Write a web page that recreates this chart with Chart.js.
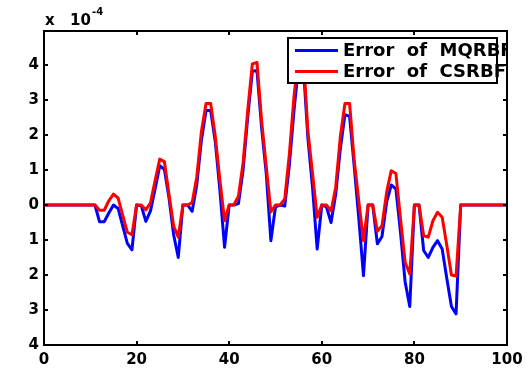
<!DOCTYPE html>
<html>
<head>
<meta charset="utf-8">
<script src="https://cdn.jsdelivr.net/npm/chart.js@4.4.1/dist/chart.umd.min.js"></script>
<style>
    html, body { margin: 0; padding: 0; background: #fff; }
    #wrap { position: relative; width: 529px; height: 374px; }
    #legendClip { position: absolute; left: 287px; top: 37px; width: 219px; height: 47px; overflow: hidden; }
    #legendBox { position: absolute; left: 0; top: 0; width: 211px; height: 47px; box-sizing: border-box; border: 2px solid #000; background: #fff; }
    .lg-line { position: absolute; left: 8px; width: 43px; height: 3px; }
    .lg-text { position: absolute; left: 56px; white-space: pre; font: bold 18px "DejaVu Sans"; line-height: 18px; color: #000; }
</style>
</head>
<body>
<div id="wrap">
    <canvas id="chart" width="529" height="374"></canvas>
    <div id="legendClip">
        <div id="legendBox"></div>
        <div class="lg-line" style="top:12px;background:#0000ff"></div>
        <div class="lg-text" style="top:4px">Error  of  MQRBF</div>
        <div class="lg-line" style="top:33px;background:#ff0000"></div>
        <div class="lg-text" style="top:25px">Error  of  CSRBF</div>
    </div>
</div>
<script>
(function () {
    // sample positions (flat zero before 11 and after 90)
    const xs = [0, 11, 12, 13, 14, 15, 16, 17, 18, 19, 20, 21, 22, 23, 24, 25, 26, 27, 28, 29, 30,
        31, 32, 33, 34, 35, 36, 37, 38, 39, 40, 41, 42, 43, 44, 45, 46, 47, 48, 49, 50,
        51, 52, 53, 54, 55, 56, 57, 58, 59, 60, 61, 62, 63, 64, 65, 66, 67, 68, 69, 70,
        71, 72, 73, 74, 75, 76, 77, 78, 79, 80, 81, 82, 83, 84, 85, 86, 87, 88, 89, 90, 100];

    // errors in units of 1e-4
    const mqrbf = [0, 0, -0.48, -0.48, -0.23, 0.0, -0.1, -0.6, -1.1, -1.28, 0, -0.02, -0.47, -0.17, 0.46, 1.12, 1.02, 0.2, -0.85, -1.5, 0,
        0, -0.18, 0.58, 1.85, 2.7, 2.7, 1.8, 0.4, -1.21, 0, 0, 0.04, 1.0, 2.5, 3.82, 3.84, 2.2, 0.9, -1.02, -0.05,
        0, -0.03, 1.15, 2.7, 4.0, 4.0, 1.9, 0.5, -1.26, 0, -0.05, -0.5, 0.3, 1.6, 2.58, 2.53, 1.1, -0.4, -2.02, 0,
        0, -1.11, -0.9, 0.08, 0.57, 0.46, -0.78, -2.2, -2.9, 0, 0, -1.3, -1.5, -1.21, -1.02, -1.26, -2.1, -2.9, -3.11, 0, 0];

    const csrbf = [0, 0, -0.15, -0.15, 0.12, 0.31, 0.2, -0.3, -0.78, -0.85, 0, 0, -0.14, 0.06, 0.7, 1.31, 1.24, 0.3, -0.6, -0.92, 0,
        0, 0.07, 0.8, 2.1, 2.9, 2.9, 1.95, 0.7, -0.45, 0, 0, 0.25, 1.2, 2.7, 4.03, 4.07, 2.4, 1.1, -0.2, 0,
        0, 0.17, 1.46, 3.1, 4.3, 4.3, 2.1, 0.9, -0.35, 0, 0, -0.17, 0.5, 1.94, 2.9, 2.9, 1.27, 0.1, -1.02, 0,
        0, -0.75, -0.59, 0.36, 0.98, 0.9, -0.4, -1.64, -1.97, 0, 0, -0.88, -0.92, -0.45, -0.21, -0.35, -1.16, -2.0, -2.03, 0, 0];

    const xTicks = [0, 20, 40, 60, 80, 100];
    const yTicks = [-4, -3, -2, -1, 0, 1, 2, 3, 4];

    const tickFont = { family: 'DejaVu Sans', weight: 'bold', size: 15 };

    // MATLAB-like box: top/right edges, inward ticks, exponent label
    const frame = {
        id: 'frame',
        afterDraw(chart) {
            const { ctx, chartArea: a, scales: { x, y } } = chart;
            ctx.save();
            ctx.strokeStyle = '#000';
            ctx.lineWidth = 2;
            ctx.beginPath();
            ctx.moveTo(a.left, a.top);
            ctx.lineTo(a.right, a.top);
            ctx.lineTo(a.right, a.bottom);
            ctx.stroke();

            ctx.beginPath();
            x.ticks.forEach(t => {
                const px = Math.round(x.getPixelForValue(t.value));
                ctx.moveTo(px, a.bottom); ctx.lineTo(px, a.bottom - 4);
                ctx.moveTo(px, a.top); ctx.lineTo(px, a.top + 4);
            });
            y.ticks.forEach(t => {
                const py = Math.round(y.getPixelForValue(t.value));
                ctx.moveTo(a.left, py); ctx.lineTo(a.left + 4, py);
                ctx.moveTo(a.right, py); ctx.lineTo(a.right - 4, py);
            });
            ctx.stroke();

            ctx.fillStyle = '#000';
            ctx.textBaseline = 'alphabetic';
            ctx.font = 'bold 15px "DejaVu Sans"';
            ctx.fillText('x', 45, 25);
            ctx.fillText('10', 70, 25);
            ctx.font = 'bold 10px "DejaVu Sans"';
            ctx.fillText('-4', 92, 15);
            ctx.restore();
        }
    };

    new Chart(document.getElementById('chart').getContext('2d'), {
        type: 'line',
        data: {
            datasets: [
                { label: 'Error of MQRBF', data: xs.map((x, i) => ({ x, y: mqrbf[i] })), borderColor: '#0000ff', borderWidth: 3, pointRadius: 0, tension: 0, borderJoinStyle: 'round', order: 2 },
                { label: 'Error of CSRBF', data: xs.map((x, i) => ({ x, y: csrbf[i] })), borderColor: '#ff0000', borderWidth: 3, pointRadius: 0, tension: 0, borderJoinStyle: 'round', order: 1 }
            ]
        },
        options: {
            responsive: false,
            animation: false,
            layout: { padding: { top: 31, right: 22, left: 0, bottom: 0 } },
            plugins: { legend: { display: false }, tooltip: { enabled: false } },
            scales: {
                x: {
                    type: 'linear', min: 0, max: 100,
                    afterFit(s) { s.height = 29; },
                    afterBuildTicks(s) { s.ticks = xTicks.map(v => ({ value: v })); },
                    ticks: { font: tickFont, color: '#000', padding: 6, maxRotation: 0, autoSkip: false },
                    grid: { display: false, drawTicks: false },
                    border: { display: true, color: '#000', width: 2 }
                },
                y: {
                    min: -4, max: 4.97,
                    afterFit(s) { s.width = 44; },
                    afterBuildTicks(s) { s.ticks = yTicks.map(v => ({ value: v })); },
                    ticks: { font: tickFont, color: '#000', padding: 5, callback: v => String(Math.abs(v)) },
                    grid: { display: false, drawTicks: false },
                    border: { display: true, color: '#000', width: 2 }
                }
            }
        },
        plugins: [frame]
    });
})();
</script>
</body>
</html>
